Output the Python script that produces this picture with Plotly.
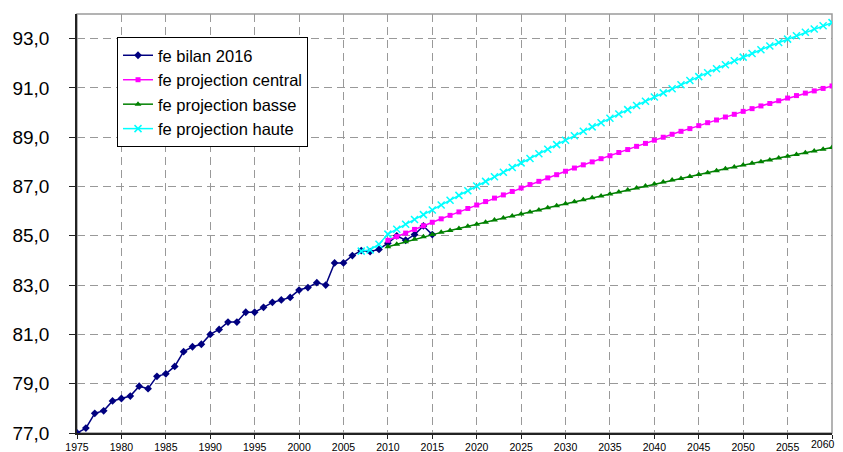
import plotly.graph_objects as go

years_bilan = list(range(1975, 2016))
bilan = [77.0, 77.2, 77.8, 77.9, 78.3, 78.4, 78.5, 78.9, 78.8, 79.3,
         79.4, 79.7, 80.3, 80.5, 80.6, 81.0, 81.2, 81.5, 81.5, 81.9,
         81.9, 82.1, 82.3, 82.4, 82.5, 82.8, 82.9, 83.1, 83.0, 83.9,
         83.9, 84.2, 84.4, 84.36, 84.45, 84.7, 85.0, 84.82, 85.05, 85.4,
         85.05]

years_haute = list(range(2007, 2061))
haute = [84.38, 84.43, 84.66, 85.07, 85.27, 85.47, 85.66, 85.86, 86.05, 86.25,
         86.44, 86.64, 86.83, 87.02, 87.21, 87.40, 87.58, 87.77, 87.96, 88.14,
         88.33, 88.51, 88.70, 88.88, 89.06, 89.24, 89.42, 89.59, 89.77, 89.94,
         90.12, 90.29, 90.46, 90.63, 90.80, 90.97, 91.13, 91.30, 91.46, 91.62,
         91.78, 91.94, 92.10, 92.25, 92.40, 92.55, 92.70, 92.84, 92.98, 93.12,
         93.26, 93.39, 93.52, 93.65]

years_proj = list(range(2010, 2061))
central = [84.82, 84.97, 85.11, 85.26, 85.41, 85.55, 85.69, 85.83, 85.97, 86.11,
           86.25, 86.39, 86.53, 86.66, 86.80, 86.94, 87.08, 87.21, 87.35, 87.48,
           87.62, 87.75, 87.88, 88.00, 88.13, 88.25, 88.38, 88.50, 88.63, 88.75,
           88.88, 89.00, 89.12, 89.24, 89.35, 89.47, 89.59, 89.70, 89.82, 89.93,
           90.05, 90.16, 90.27, 90.37, 90.48, 90.59, 90.69, 90.79, 90.88, 90.98,
           91.08]
basse = [84.56, 84.66, 84.76, 84.86, 84.96, 85.05, 85.14, 85.22, 85.30, 85.39,
         85.47, 85.55, 85.64, 85.72, 85.80, 85.89, 85.97, 86.05, 86.14, 86.22,
         86.30, 86.38, 86.46, 86.54, 86.62, 86.70, 86.78, 86.86, 86.94, 87.02,
         87.10, 87.18, 87.26, 87.33, 87.41, 87.49, 87.56, 87.64, 87.72, 87.79,
         87.87, 87.94, 88.01, 88.08, 88.16, 88.23, 88.30, 88.37, 88.44, 88.51,
         88.58]

x_ticks = list(range(1975, 2061, 5))
y_ticks = list(range(77, 94, 2))

FONT = "Liberation Sans, Arial, sans-serif"

fig = go.Figure()
fig.add_trace(go.Scatter(x=years_bilan, y=bilan, name="fe bilan 2016", mode="lines+markers",
                         line=dict(color="#000080", width=1.5),
                         marker=dict(symbol="diamond", size=6, color="#000080")))
fig.add_trace(go.Scatter(x=years_proj, y=central, name="fe projection central", mode="lines+markers",
                         line=dict(color="#FF00FF", width=1.5),
                         marker=dict(symbol="square", size=5, color="#FF00FF")))
fig.add_trace(go.Scatter(x=years_proj, y=basse, name="fe projection basse", mode="lines+markers",
                         line=dict(color="#008000", width=1.5),
                         marker=dict(symbol="triangle-up", size=6, color="#008000")))
fig.add_trace(go.Scatter(x=years_haute, y=haute, name="fe projection haute", mode="lines+markers",
                         line=dict(color="#00FFFF", width=1.5),
                         marker=dict(symbol="x-thin", size=7, color="#00FFFF",
                                     line=dict(color="#00FFFF", width=1.5))))

fig.add_shape(type="rect", xref="paper", yref="paper", x0=0, y0=0, x1=1, y1=1,
              line=dict(color="#9a9a9a", width=1.5), layer="below")

# last tick label is drawn slightly left so it stays inside the window
tick_text = [str(v) for v in x_ticks]
last_label = tick_text[-1]
tick_text[-1] = ""
fig.add_annotation(x=x_ticks[-1], xref="x", y=0, yref="paper", yanchor="top",
                   xanchor="right", xshift=4, yshift=-4, showarrow=False,
                   borderpad=0,
                   text=last_label, font=dict(family=FONT, size=10.5, color="black"))

# page body has an 8px margin, so figure is placed at (8, 8)
fig.update_layout(
    width=835, height=444,
    margin=dict(l=69, r=11, t=6, b=19),
    paper_bgcolor="white", plot_bgcolor="white",
    separators=", ",
    font=dict(family=FONT, color="black"),
    showlegend=True,
    legend=dict(x=0.053, y=0.945, xanchor="left", yanchor="top",
                bgcolor="white", bordercolor="black", borderwidth=1,
                font=dict(family=FONT, size=16.5, color="black"),
                tracegroupgap=0),
    xaxis=dict(range=[1975, 2060], tickmode="array", tickvals=x_ticks,
               ticktext=tick_text,
               tickfont=dict(size=10.5, family=FONT),
               automargin=False,
               showline=True, linecolor="#222", linewidth=1.5,
               ticks="outside", ticklen=4, tickcolor="#222",
               showgrid=True, gridcolor="#999999", griddash="8px,5px", gridwidth=1,
               minor=dict(showgrid=False),
               zeroline=False),
    yaxis=dict(range=[77, 94], tickmode="array", tickvals=y_ticks,
               tickformat=".1f",
               tickfont=dict(size=19, family=FONT),
               automargin=False, ticklabelstandoff=16,
               showline=True, linecolor="#222", linewidth=1.5,
               ticks="outside", ticklen=6, tickcolor="#222",
               showgrid=True, gridcolor="#999999", griddash="8px,5px", gridwidth=1,
               minor=dict(showgrid=False),
               zeroline=False),
)

fig.write_html("out.html")
